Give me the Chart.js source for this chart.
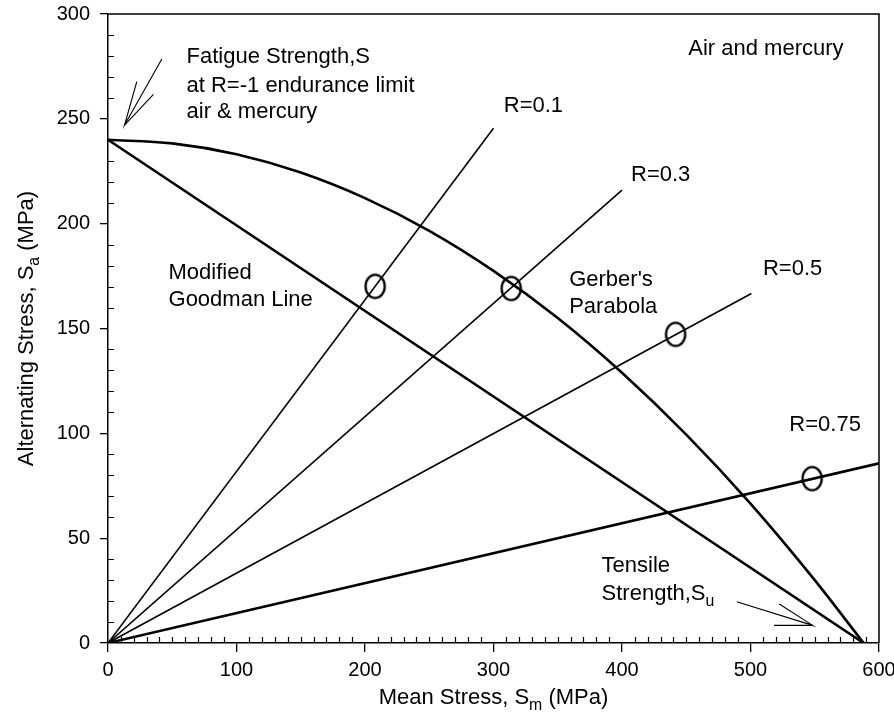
<!DOCTYPE html>
<html><head><meta charset="utf-8">
<script src="https://cdn.jsdelivr.net/npm/chart.js@4.4.1/dist/chart.umd.min.js"></script>
<style>html,body{margin:0;padding:0;background:#fff}#wrap{width:894px;height:716px}</style>
</head><body><div id="wrap"><canvas id="c" width="894" height="716"></canvas></div>
<script>
// ---- data ----
const xTicks = [0, 100, 200, 300, 400, 500, 600];
const yTicks = [0, 50, 100, 150, 200, 250, 300];

const gerberSm = [0, 50, 100, 150, 200, 250, 300, 350, 400, 450, 500, 550, 588];
const gerberSa = [240, 238.3, 233.1, 224.4, 212.2, 196.6, 177.5, 155.0, 128.9, 99.4, 66.5, 30.0, 0];

const goodmanSm = [0, 588];
const goodmanSa = [240, 0];

const r01Sm = [0, 300];   const r01Sa = [0, 245.5];
const r03Sm = [0, 400];   const r03Sa = [0, 216];
const r05Sm = [0, 500.7]; const r05Sa = [0, 166.7];
const r075Sm = [0, 600];  const r075Sa = [0, 85.7];

const testSm = [207.9, 313.8, 441.7, 548.0];
const testSa = [170.1, 169.1, 147.2, 78.4];

const fatigueArrowSm = [41.9, 12.9, 22.4];   // shaft start, apex, barb
const fatigueArrowSa = [278.5, 247.0, 267.7];
const fatigueBarbSm = [12.9, 35.4];
const fatigueBarbSa = [247.0, 261.7];

const tensileArrowSm = [489.3, 548.4, 522.4];
const tensileArrowSa = [19.7, 8.4, 18.6];
const tensileBarbSm = [548.4, 518.3];
const tensileBarbSa = [8.4, 8.4];

// text annotations: [parts, Sm, Sa(baseline)]
const notes = [
  [[{t:'Fatigue Strength,S'}], 61.1, 276.4],
  [[{t:'at R=-1 endurance limit'}], 61.1, 262.8],
  [[{t:'air & mercury'}], 61.1, 250.2],
  [[{t:'Air and mercury'}], 451.6, 280.4],
  [[{t:'R=0.1'}], 308, 253.2],
  [[{t:'R=0.3'}], 407, 220.5],
  [[{t:'R=0.5'}], 509.7, 175.5],
  [[{t:'R=0.75'}], 530.2, 101.2],
  [[{t:'Modified'}], 47.1, 173.6],
  [[{t:'Goodman Line'}], 47.1, 160.7],
  [[{t:"Gerber's"}], 358.9, 170.2],
  [[{t:'Parabola'}], 358.9, 157.2],
  [[{t:'Tensile'}], 384.1, 34.0],
  [[{t:'Strength,S'},{t:'u',sub:true}], 384.1, 20.5]
];
const xTitle = [{t:'Mean Stress, S'},{t:'m',sub:true},{t:' (MPa)'}];
const yTitle = [{t:'Alternating Stress, S'},{t:'a',sub:true},{t:' (MPa)'}];

// ---- helpers ----
const pts = (xs, ys) => xs.map((x, i) => ({x: x, y: ys[i]}));
const FONT = 'Liberation Sans, Arial, Helvetica, sans-serif';

function ellipseMarker() {
  const c = document.createElement('canvas');
  c.width = 26; c.height = 30;
  const g = c.getContext('2d');
  g.strokeStyle = '#000'; g.lineWidth = 2.3;
  g.beginPath(); g.ellipse(13, 15, 9.6, 11.6, 0, 0, Math.PI * 2); g.stroke();
  return c;
}

function richWidth(ctx, parts, size) {
  let w = 0;
  for (const p of parts) {
    ctx.font = (p.sub ? size * 0.72 : size) + 'px ' + FONT;
    w += ctx.measureText(p.t).width;
  }
  return w;
}
function drawRich(ctx, parts, x, y, size) {
  let cx = x;
  for (const p of parts) {
    ctx.font = (p.sub ? size * 0.72 : size) + 'px ' + FONT;
    ctx.fillText(p.t, cx, p.sub ? y + size * 0.28 : y);
    cx += ctx.measureText(p.t).width;
  }
}

const deco = {
  id: 'deco',
  afterDraw(chart) {
    const ctx = chart.ctx, a = chart.chartArea;
    const xs = chart.scales.x, ys = chart.scales.y;
    ctx.save();
    ctx.strokeStyle = '#000'; ctx.fillStyle = '#000';
    // frame top & right
    ctx.lineWidth = 1.5;
    ctx.beginPath();
    ctx.moveTo(a.left, a.top); ctx.lineTo(a.right, a.top); ctx.lineTo(a.right, a.bottom);
    ctx.stroke();
    // minor ticks inside
    ctx.lineWidth = 1.2;
    ctx.beginPath();
    for (let v = 10; v < 600; v += 10) {
      if (v % 100 === 0) continue;
      const px = Math.round(xs.getPixelForValue(v)) + 0.5;
      ctx.moveTo(px, a.bottom); ctx.lineTo(px, a.bottom - 6);
    }
    for (let v = 10; v < 300; v += 10) {
      if (v % 50 === 0) continue;
      const py = Math.round(ys.getPixelForValue(v)) + 0.5;
      ctx.moveTo(a.left, py); ctx.lineTo(a.left + 6, py);
    }
    ctx.stroke();
    // annotations
    ctx.textBaseline = 'alphabetic'; ctx.textAlign = 'left';
    for (const n of notes) {
      drawRich(ctx, n[0], xs.getPixelForValue(n[1]), ys.getPixelForValue(n[2]), 22);
    }
    // axis titles
    const tsz = 22;
    const wx = richWidth(ctx, xTitle, tsz);
    drawRich(ctx, xTitle, (a.left + a.right) / 2 - wx / 2, 704, tsz);
    const wy = richWidth(ctx, yTitle, tsz);
    ctx.translate(33, (a.top + a.bottom) / 2);
    ctx.rotate(-Math.PI / 2);
    drawRich(ctx, yTitle, -wy / 2, 0, tsz);
    ctx.restore();
  }
};

const marker = ellipseMarker();
const line = (data, w) => ({data: data, showLine: true, borderColor: '#000', borderWidth: w, pointRadius: 0, fill: false});

new Chart(document.getElementById('c'), {
  type: 'scatter',
  data: {
    datasets: [
      Object.assign(line(pts(gerberSm, gerberSa), 2.6), {cubicInterpolationMode: 'monotone'}),
      line(pts(goodmanSm, goodmanSa), 2.6),
      line(pts(r01Sm, r01Sa), 1.6),
      line(pts(r03Sm, r03Sa), 1.6),
      line(pts(r05Sm, r05Sa), 1.6),
      line(pts(r075Sm, r075Sa), 2.6),
      line(pts(fatigueArrowSm, fatigueArrowSa), 1.1),
      line(pts(fatigueBarbSm, fatigueBarbSa), 1.1),
      line(pts(tensileArrowSm, tensileArrowSa), 1.1),
      line(pts(tensileBarbSm, tensileBarbSa), 1.1),
      {data: pts(testSm, testSa), showLine: false, pointStyle: marker, pointRadius: 12, borderColor: '#000'}
    ]
  },
  options: {
    responsive: false, animation: false,
    layout: {padding: {left: 0, right: 15, top: 14, bottom: 0}},
    plugins: {legend: {display: false}, tooltip: {enabled: false}},
    scales: {
      x: {
        type: 'linear', min: 0, max: 600,
        afterBuildTicks: s => { s.ticks = xTicks.map(v => ({value: v})); },
        afterFit: s => { s.height = 73; s.paddingLeft = 0; s.paddingRight = 0; },
        ticks: {color: '#000', font: {family: FONT, size: 20}, padding: 6, maxRotation: 0, autoSkip: false},
        grid: {drawOnChartArea: false, drawTicks: true, tickLength: 9, color: '#000', lineWidth: 1.3},
        border: {display: true, color: '#000', width: 1.5}
      },
      y: {
        type: 'linear', min: 0, max: 300,
        afterBuildTicks: s => { s.ticks = yTicks.map(v => ({value: v})); },
        afterFit: s => { s.width = 108; s.paddingTop = 0; s.paddingBottom = 0; },
        ticks: {color: '#000', font: {family: FONT, size: 20}, padding: 10, autoSkip: false},
        grid: {drawOnChartArea: false, drawTicks: true, tickLength: 8, color: '#000', lineWidth: 1.3},
        border: {display: true, color: '#000', width: 1.5}
      }
    }
  },
  plugins: [deco]
});
</script>
</body></html>
